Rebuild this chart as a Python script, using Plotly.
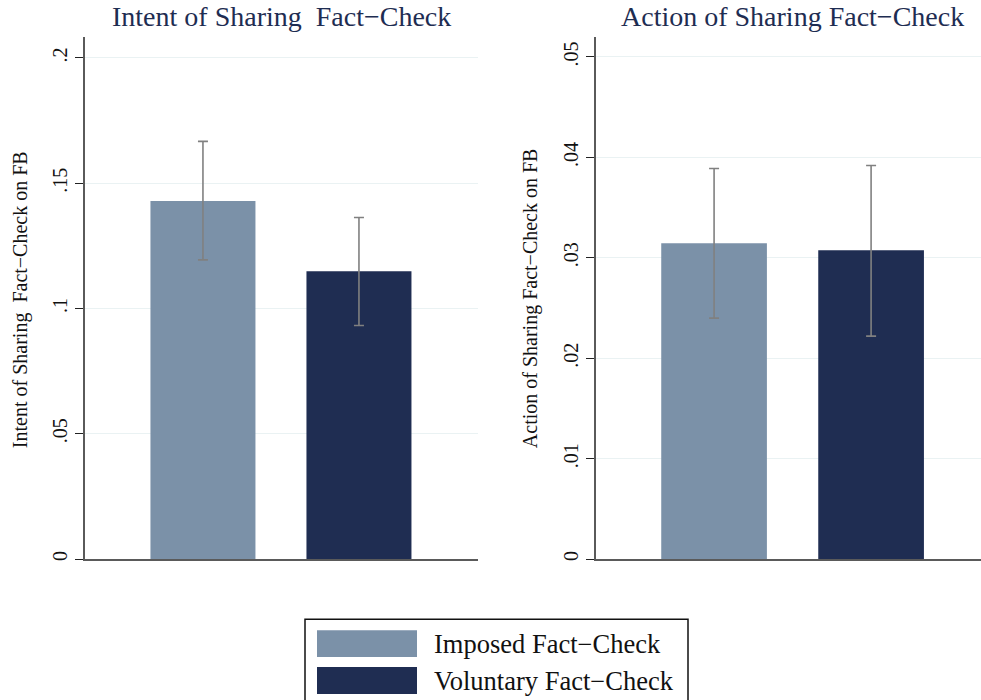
import plotly.graph_objects as go
from plotly.subplots import make_subplots

# datos
grupos = ["Imposed Fact−Check", "Voluntary Fact−Check"]
posiciones = [1, 2]

intent_media = [0.1429, 0.1149]
intent_inf = [0.1194, 0.0932]
intent_sup = [0.1667, 0.1363]

action_media = [0.03145, 0.03075]
action_inf = [0.0240, 0.0222]
action_sup = [0.0389, 0.0392]

ticks_intent = [0, 0.05, 0.1, 0.15, 0.2]
etiquetas_intent = ["0", ".05", ".1", ".15", ".2"]
ticks_action = [0, 0.01, 0.02, 0.03, 0.04, 0.05]
etiquetas_action = ["0", ".01", ".02", ".03", ".04", ".05"]

COLORES = ["#7b91a8", "#1f2d52"]
FUENTE = "Liberation Serif, Times New Roman, serif"
GRIS_EJE = "#5a5a5a"
GRID = "#eaf2f3"
ERROR = "#808080"

W, H = 981, 700

fig = make_subplots(rows=1, cols=2)


def agregar_barras(media, inf, sup, col):
    for i in range(len(grupos)):
        fig.add_trace(go.Bar(
            x=[posiciones[i]], y=[media[i]],
            width=0.673,
            marker=dict(color=COLORES[i], line=dict(width=0)),
            error_y=dict(
                type="data", symmetric=False,
                array=[sup[i] - media[i]],
                arrayminus=[media[i] - inf[i]],
                color=ERROR, thickness=1.6, width=5
            ),
            name=grupos[i], showlegend=False
        ), row=1, col=col)


agregar_barras(intent_media, intent_inf, intent_sup, 1)
agregar_barras(action_media, action_inf, action_sup, 2)

eje_y = dict(
    showline=True, linecolor=GRIS_EJE, linewidth=1.5,
    ticks="outside", ticklen=8, tickwidth=1.2, tickcolor="#222",
    tickangle=-90, showgrid=True, gridcolor=GRID, gridwidth=1.2,
    zeroline=False,
    tickfont=dict(family=FUENTE, size=20, color="#111")
)
eje_x = dict(
    showline=True, linecolor=GRIS_EJE, linewidth=1.5,
    showticklabels=False, ticks="", showgrid=False, zeroline=False
)

y_dom = [(H - 560.7) / H, (H - 37.5) / H]

fig.update_xaxes(**eje_x)
fig.update_yaxes(**eje_y)
fig.update_layout(
    xaxis=dict(domain=[85 / W, 478 / W], range=[0.244, 2.763]),
    xaxis2=dict(domain=[596 / W, 1.0], range=[0.248, 2.70]),
    yaxis=dict(domain=y_dom, range=[0, 0.2082],
               tickvals=ticks_intent, ticktext=etiquetas_intent),
    yaxis2=dict(domain=y_dom, range=[0, 0.05195],
                tickvals=ticks_action, ticktext=etiquetas_action),
)

anotaciones = [
    dict(text="Intent of Sharing\u00a0 Fact−Check", x=281 / W, y=(H - 17) / H,
         font=dict(size=28, color="#1e2d52", family=FUENTE)),
    dict(text="Action of Sharing Fact−Check", x=792 / W, y=(H - 17) / H,
         font=dict(size=28, color="#1e2d52", family=FUENTE)),
    dict(text="Intent of Sharing\u00a0 Fact−Check on FB", x=20 / W, y=(H - 301) / H,
         textangle=-90, font=dict(size=20, color="#111", family=FUENTE)),
    dict(text="Action of Sharing Fact−Check on FB", x=530 / W, y=(H - 299) / H,
         textangle=-90, font=dict(size=20, color="#111", family=FUENTE)),
]
for a in anotaciones:
    a.update(xref="paper", yref="paper", showarrow=False,
             xanchor="center", yanchor="middle")

# leyenda dibujada a mano (muestras anchas estilo Stata)
formas = [
    dict(type="rect", xref="paper", yref="paper",
         x0=305 / W, x1=688 / W, y0=-0.02, y1=(H - 621) / H,
         line=dict(color="#111", width=1.5), fillcolor="white"),
]
filas_y = [(632, 659), (669, 696)]
for i, (t, b) in enumerate(filas_y):
    formas.append(dict(type="rect", xref="paper", yref="paper",
                       x0=317 / W, x1=417 / W, y0=(H - b) / H, y1=(H - t) / H,
                       line=dict(width=0), fillcolor=COLORES[i]))
    anotaciones.append(dict(text=grupos[i], xref="paper", yref="paper",
                            x=432 / W, y=(H - (t + b) / 2) / H,
                            xanchor="left", yanchor="middle", showarrow=False,
                            font=dict(size=26.5, color="#111", family=FUENTE)))

fig.update_layout(
    width=W, height=H,
    margin=dict(l=0, r=0, t=0, b=0),
    plot_bgcolor="white", paper_bgcolor="white",
    barmode="overlay",
    annotations=anotaciones,
    shapes=formas,
    font=dict(family=FUENTE),
)

# sin margen del body para que el grafico empiece en (0,0)
fig.write_html("out.html", config={"displayModeBar": False},
               post_script="document.body.style.margin='0';document.body.style.overflow='hidden';")
